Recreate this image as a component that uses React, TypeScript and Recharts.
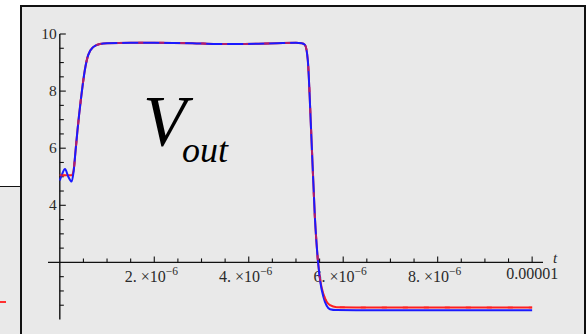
import React from 'react';
import { LineChart, Line, XAxis, YAxis, ReferenceLine } from 'recharts';

// time in microseconds, output voltage in volts
const tUs = [
  0, 0.05, 0.11, 0.18, 0.25, 0.29, 0.335, 0.375, 0.445, 0.53, 0.6, 0.705, 0.85, 1.0, 1.5, 2.0, 2.8,
  3.3, 3.7, 4.2, 4.6, 5.0, 5.12, 5.19, 5.25, 5.32, 5.4, 5.47, 5.52, 5.58, 5.65, 5.72, 5.86, 6.5, 8.0,
  10.0,
];
const vRed = [
  5.05, 5.05, 5.05, 5.05, 5.05, 5.2, 5.94, 6.64, 7.69, 8.74, 9.26, 9.54, 9.65, 9.68, 9.69, 9.69, 9.68,
  9.65, 9.65, 9.66, 9.68, 9.69, 9.68, 9.62, 9.09, 6.64, 3.6, 1.97, 1.32, 0.9, 0.62, 0.5, 0.43, 0.42,
  0.42, 0.42,
];
const vBlue = [
  4.87, 5.1, 5.27, 5.0, 4.83, 5.15, 5.94, 6.64, 7.69, 8.74, 9.26, 9.54, 9.65, 9.68, 9.69, 9.69, 9.68,
  9.65, 9.65, 9.66, 9.68, 9.69, 9.68, 9.62, 9.09, 6.64, 3.6, 1.97, 1.27, 0.8, 0.48, 0.36, 0.33, 0.32,
  0.32, 0.32,
];

const xMajor = [2, 4, 6, 8, 10];
const xMantissa = ['2.', '4.', '6.', '8.', '0.00001'];
const xExponent = ['−6', '−6', '−6', '−6', ''];
const xMinor = [0.5, 1, 1.5, 2.5, 3, 3.5, 4.5, 5, 5.5, 6.5, 7, 7.5, 8.5, 9, 9.5];
const yMajor = [4, 6, 8, 10];
const yMinor = [0.5, 1, 1.5, 2.5, 3, 3.5, 4.5, 5, 5.5, 6.5, 7, 7.5, 8.5, 9, 9.5];

const data = tUs.map((t, i) => ({ t, red: vRed[i], blue: vBlue[i] }));

const X_DOMAIN: [number, number] = [-0.25, 10.23];
const Y_DOMAIN: [number, number] = [0, 10];
const AXIS_Y = 2; // horizontal axis crosses the vertical one at V = 2
const FONT = '"Liberation Serif", "Times New Roman", serif';
const INK = '#2a2a2a';
const PANEL = '#e9e9e9';
const RED = '#ff2020';
const BLUE = '#1a1aff';

type VB = { x: number; y: number; width: number; height: number };

function XTickLabel(props: any) {
  const vb: VB = props.viewBox || { x: 0, y: 0, width: 0, height: 0 };
  const base = vb.y + vb.height;
  const { mant, exp } = props;
  if (!exp) {
    return (
      <text x={vb.x} y={base + 17} textAnchor="middle" fontFamily={FONT} fontSize={16} fill={INK}>
        {mant}
      </text>
    );
  }
  return (
    <text x={vb.x - 3} y={base + 20} textAnchor="middle" fontFamily={FONT} fontSize={16} fill={INK}>
      {mant} ×10
      <tspan dy={-7} fontSize={11.5}>
        {exp}
      </tspan>
    </text>
  );
}

function YTickLabel(props: any) {
  const vb: VB = props.viewBox || { x: 0, y: 0, width: 0, height: 0 };
  return (
    <text x={vb.x - 3} y={vb.y + 5} textAnchor="end" fontFamily={FONT} fontSize={15.5} fill={INK}>
      {props.text}
    </text>
  );
}

function AxisName(props: any) {
  const vb: VB = props.viewBox || { x: 0, y: 0, width: 0, height: 0 };
  return (
    <text x={vb.x + vb.width + 10} y={vb.y + 1} fontFamily={FONT} fontStyle="italic" fontSize={15} fill={INK}>
      t
    </text>
  );
}

const MAJOR_X = 0.21; // tick lengths in data units
const MINOR_X = 0.14;
const MAJOR_Y = 0.127;
const MINOR_Y = 0.085;

export default function App() {
  return (
    <div style={{ position: 'absolute', left: 0, top: 0, width: 588, height: 334, background: '#fff', overflow: 'hidden' }}>
      {/* edge of the neighbouring panel */}
      <div
        style={{
          position: 'absolute',
          left: 0,
          top: 186,
          width: 21,
          height: 200,
          background: PANEL,
          borderTop: '1.5px solid #111',
        }}
      >
        <div style={{ position: 'absolute', left: 0, top: 114, width: 6, height: 2, background: '#ff3030' }} />
      </div>
      <div
        style={{
          position: 'absolute',
          left: 20,
          top: 5,
          width: 566,
          height: 345,
          boxSizing: 'border-box',
          background: PANEL,
          border: '2px solid #111',
        }}
      />
      <div style={{ position: 'absolute', left: 0, top: 0 }}>
        <LineChart width={588} height={334} data={data} margin={{ top: 34, right: 45, bottom: 14.5, left: 48 }}>
          <XAxis type="number" dataKey="t" domain={X_DOMAIN} hide />
          <YAxis type="number" domain={Y_DOMAIN} hide />
          <ReferenceLine
            segment={[{ x: X_DOMAIN[0], y: AXIS_Y }, { x: X_DOMAIN[1], y: AXIS_Y }]}
            stroke="#111"
            strokeWidth={1.4}
            ifOverflow="visible"
            label={<AxisName />}
          />
          <ReferenceLine
            segment={[{ x: 0, y: Y_DOMAIN[0] }, { x: 0, y: Y_DOMAIN[1] }]}
            stroke="#111"
            strokeWidth={1.4}
            ifOverflow="visible"
          />
          {xMinor.map((t) => (
            <ReferenceLine
              key={`xm${t}`}
              segment={[{ x: t, y: AXIS_Y }, { x: t, y: AXIS_Y + MINOR_X }]}
              stroke="#111"
              strokeWidth={1.1}
              ifOverflow="visible"
            />
          ))}
          {xMajor.map((t, i) => (
            <ReferenceLine
              key={`xM${t}`}
              segment={[{ x: t, y: AXIS_Y }, { x: t, y: AXIS_Y + MAJOR_X }]}
              stroke="#111"
              strokeWidth={1.1}
              ifOverflow="visible"
              label={<XTickLabel mant={xMantissa[i]} exp={xExponent[i]} />}
            />
          ))}
          {yMinor.map((v) => (
            <ReferenceLine
              key={`ym${v}`}
              segment={[{ x: 0, y: v }, { x: MINOR_Y, y: v }]}
              stroke="#111"
              strokeWidth={1.1}
              ifOverflow="visible"
            />
          ))}
          {yMajor.map((v) => (
            <ReferenceLine
              key={`yM${v}`}
              segment={[{ x: 0, y: v }, { x: MAJOR_Y, y: v }]}
              stroke="#111"
              strokeWidth={1.1}
              ifOverflow="visible"
              label={<YTickLabel text={String(v)} />}
            />
          ))}
          <Line type="monotone" dataKey="red" stroke={RED} strokeWidth={2} dot={false} isAnimationActive={false} />
          <Line type="monotone" dataKey="blue" stroke={BLUE} strokeWidth={2} dot={false} isAnimationActive={false} />
          {/* red dashes peeking through where the two traces coincide */}
          <Line
            type="monotone"
            dataKey="red"
            stroke={RED}
            strokeOpacity={0.65}
            strokeWidth={2}
            strokeDasharray="5 16"
            dot={false}
            legendType="none"
            isAnimationActive={false}
          />
        </LineChart>
      </div>
      <svg width={588} height={334} style={{ position: 'absolute', left: 0, top: 0, pointerEvents: 'none' }}>
        <text x={143} y={145} fontFamily={FONT} fontStyle="italic" fontSize={71} fill="#000">
          V
        </text>
        <text x={182} y={162} fontFamily={FONT} fontStyle="italic" fontSize={36} fill="#000">
          out
        </text>
      </svg>
    </div>
  );
}
